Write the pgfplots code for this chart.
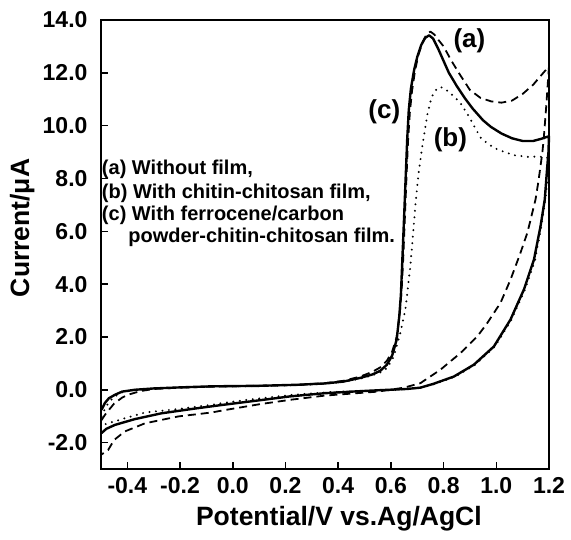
\documentclass[border=0pt]{standalone}
\usepackage{fontspec}
\setmainfont{Liberation Sans}
\usepackage{pgfplots}
\pgfplotsset{compat=1.18}
\begin{document}
\begin{tikzpicture}
\useasboundingbox (-101pt,-70pt) rectangle (470pt,469pt);
\begin{axis}[
  at={(0,0)}, anchor=south west,
  scale only axis, width=448pt, height=449pt,
  xmin=-0.5, xmax=1.2, ymin=-3, ymax=14,
  xtick={-0.4,-0.2,0,0.2,0.4,0.6,0.8,1.0,1.2},
  xticklabels={-0.4,-0.2,0.0,0.2,0.4,0.6,0.8,1.0,1.2},
  ytick={-2,0,2,4,6,8,10,12,14},
  yticklabels={-2.0,0.0,2.0,4.0,6.0,8.0,10.0,12.0,14.0},
  xtick pos=bottom, ytick pos=left,
  tick align=inside, major tick length=7pt,
  tick style={line width=1.5pt, black},
  axis line style={line width=1.8pt},
  ticklabel style={font=\bfseries\fontsize{23}{27}\selectfont},
  xticklabel style={yshift=-5pt},
  yticklabel style={xshift=-10pt},
  xlabel={Potential/V vs.Ag/AgCl},
  ylabel={Current/μA},
  label style={font=\bfseries\fontsize{26.5}{30}\selectfont},
  xlabel style={at={(axis description cs:0.531,-0.111)}, anchor=center},
  ylabel style={at={(axis description cs:-0.176,0.537)}, anchor=center, rotate=0},
  clip=false,
]
% (c) solid
\addplot[black, line width=2.4pt, line join=round] coordinates {
(-0.498,-0.76) (-0.485,-0.50) (-0.47,-0.32) (-0.447,-0.19) (-0.42,-0.07) (-0.371,0.00)
(-0.3,0.05) (-0.2,0.09) (-0.08,0.13) (0.1,0.15) (0.25,0.19) (0.35,0.24) (0.42,0.31)
(0.484,0.45) (0.53,0.58) (0.56,0.72) (0.585,0.95) (0.605,1.3) (0.622,1.9) (0.632,2.8)
(0.638,3.6) (0.643,4.8) (0.650,6.5) (0.656,8.0) (0.662,9.5) (0.668,10.6) (0.676,11.4)
(0.688,12.1) (0.70,12.6) (0.715,13.05) (0.73,13.32) (0.745,13.42) (0.76,13.3) (0.78,12.9)
(0.80,12.45) (0.82,12.0) (0.85,11.5) (0.88,11.05) (0.91,10.65) (0.95,10.2) (0.98,9.95)
(1.02,9.7) (1.06,9.52) (1.10,9.42) (1.14,9.42) (1.17,9.5) (1.2,9.6)
(1.198,9.0) (1.193,8.4) (1.184,7.21) (1.168,6.2) (1.143,4.93) (1.105,3.8) (1.054,2.66)
(0.991,1.64) (0.915,0.95) (0.839,0.5) (0.76,0.22) (0.712,0.08) (0.66,0.03) (0.55,-0.02)
(0.47,-0.06) (0.35,-0.13) (0.218,-0.25) (0.1,-0.4) (-0.037,-0.57) (-0.15,-0.72)
(-0.27,-0.89) (-0.371,-1.11) (-0.447,-1.33) (-0.48,-1.48) (-0.498,-1.64)
};
% (a) dashed
\addplot[black, line width=1.8pt, dash pattern=on 8pt off 5pt, line join=round] coordinates {
(-0.498,-1.15) (-0.485,-0.95) (-0.473,-0.80) (-0.45,-0.52) (-0.42,-0.30) (-0.398,-0.19)
(-0.35,-0.05) (-0.3,0.03) (-0.2,0.08) (-0.08,0.12) (0.1,0.15) (0.25,0.19) (0.35,0.25)
(0.42,0.34) (0.484,0.5) (0.53,0.68) (0.56,0.85) (0.585,1.1) (0.605,1.45) (0.622,2.0)
(0.634,2.9) (0.641,3.8) (0.647,5.0) (0.653,6.5) (0.659,8.0) (0.665,9.4) (0.672,10.5)
(0.68,11.3) (0.692,12.1) (0.705,12.7) (0.72,13.15) (0.735,13.45) (0.75,13.56) (0.765,13.45)
(0.78,13.25) (0.80,13.0) (0.83,12.45) (0.864,11.9) (0.9,11.35) (0.94,11.05) (0.98,10.92)
(1.02,10.87) (1.06,10.95) (1.10,11.2) (1.14,11.55) (1.17,11.9) (1.2,12.25)
(1.19,10.8) (1.18,9.5) (1.175,9.0) (1.16,7.9) (1.149,7.21) (1.143,6.96) (1.118,5.95)
(1.092,5.19) (1.054,4.17) (1.016,3.29) (0.966,2.53) (0.928,2.02) (0.864,1.39) (0.788,0.76)
(0.712,0.25) (0.65,0.08) (0.55,-0.07) (0.47,-0.13) (0.35,-0.22) (0.218,-0.38) (0.1,-0.55)
(-0.037,-0.78) (-0.08,-0.86) (-0.207,-1.01) (-0.333,-1.27) (-0.41,-1.58) (-0.45,-1.9)
(-0.473,-2.28) (-0.498,-2.45)
};
% (b) dotted
\addplot[black, line width=2.2pt, line cap=round, dash pattern=on 0pt off 6.5pt, line join=round] coordinates {
(-0.498,-1.0) (-0.48,-0.62) (-0.455,-0.3) (-0.42,-0.1) (-0.37,0.0) (-0.3,0.05) (-0.2,0.09)
(-0.08,0.12) (0.1,0.14) (0.25,0.18) (0.35,0.23) (0.42,0.3) (0.484,0.42) (0.53,0.55)
(0.56,0.66) (0.586,0.82) (0.611,1.26) (0.636,2.15) (0.655,3.04) (0.674,4.68) (0.685,6.0)
(0.693,7.0) (0.705,8.2) (0.719,9.2) (0.738,10.4) (0.755,11.1) (0.776,11.42) (0.795,11.45)
(0.814,11.32) (0.84,11.1) (0.864,10.85) (0.89,10.45) (0.915,10.0) (0.94,9.55) (0.97,9.3)
(1.004,9.1) (1.067,8.88) (1.12,8.82) (1.162,8.83) (1.19,8.8) (1.2,8.75)
(1.195,8.0) (1.186,7.2) (1.171,6.2) (1.147,4.9) (1.109,3.8) (1.058,2.66) (0.995,1.64)
(0.92,0.95) (0.845,0.5) (0.76,0.2) (0.7,0.06) (0.6,-0.02) (0.47,-0.05) (0.35,-0.1)
(0.218,-0.2) (0.1,-0.33) (-0.037,-0.5) (-0.08,-0.57) (-0.207,-0.73) (-0.333,-0.86)
(-0.41,-1.08) (-0.473,-1.27) (-0.498,-1.35)
};
\node[font=\bfseries\fontsize{26}{30}\selectfont, inner sep=0pt] at (axis cs:0.898,13.21) {(a)};
\node[font=\bfseries\fontsize{26}{30}\selectfont, inner sep=0pt] at (axis cs:0.826,9.45) {(b)};
\node[font=\bfseries\fontsize{26}{30}\selectfont, inner sep=0pt] at (axis cs:0.575,10.51) {(c)};
\node[font=\bfseries\fontsize{20}{23}\selectfont, inner sep=0pt, anchor=base west] at (axis cs:-0.497,8.16) {(a) Without film,};
\node[font=\bfseries\fontsize{20}{23}\selectfont, inner sep=0pt, anchor=base west] at (axis cs:-0.497,7.25) {(b) With chitin-chitosan film,};
\node[font=\bfseries\fontsize{20}{23}\selectfont, inner sep=0pt, anchor=base west] at (axis cs:-0.497,6.39) {(c) With ferrocene/carbon};
\node[font=\bfseries\fontsize{20}{23}\selectfont, inner sep=0pt, anchor=base west] at (axis cs:-0.397,5.57) {powder-chitin-chitosan film.};
\end{axis}
\end{tikzpicture}
\end{document}
